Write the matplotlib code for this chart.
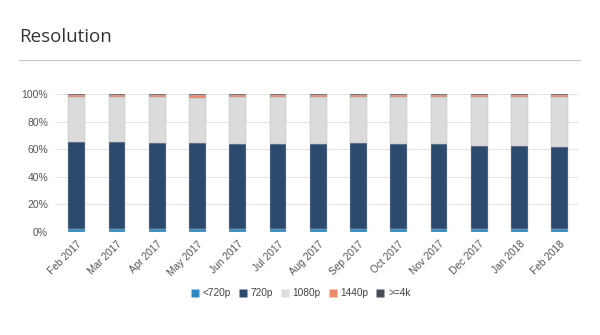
import matplotlib
matplotlib.use("Agg")
import matplotlib.pyplot as plt
import numpy as np
from matplotlib.lines import Line2D

months = ["Feb 2017", "Mar 2017", "Apr 2017", "May 2017", "Jun 2017", "Jul 2017",
          "Aug 2017", "Sep 2017", "Oct 2017", "Nov 2017", "Dec 2017", "Jan 2018", "Feb 2018"]
res_lt720 = [2.0, 2.0, 2.0, 2.0, 2.0, 2.0, 2.0, 2.0, 2.0, 2.0, 2.0, 2.0, 2.0]
res_720 = [63.4, 63.0, 62.3, 62.3, 61.5, 61.5, 61.5, 62.3, 61.5, 61.5, 60.3, 60.3, 59.8]
res_1080 = [32.2, 32.6, 33.3, 33.0, 34.1, 34.1, 34.1, 33.2, 34.1, 34.1, 35.3, 35.3, 35.8]
res_1440 = [1.7, 1.7, 1.7, 1.7, 1.7, 1.7, 1.7, 1.5, 1.7, 1.7, 1.4, 1.7, 1.7]
res_4k = [0.7, 0.7, 0.7, 1.0, 0.7, 0.7, 0.7, 1.0, 0.7, 0.7, 1.0, 0.7, 0.7]

labels = ["<720p", "720p", "1080p", "1440p", ">=4k"]
colors = ["#2f8ac4", "#2c4a6e", "#dbdbdb", "#ec8a6c", "#474d55"]

plt.rcParams["font.family"] = ["Liberation Sans", "DejaVu Sans"]

fig = plt.figure(figsize=(6, 3.35), dpi=100)
ax = fig.add_axes([0.0917, 0.3075, 0.872, 0.4119])

x = np.arange(len(months))
bottom = np.zeros(len(months))
for vals, col in zip([res_lt720, res_720, res_1080, res_1440, res_4k], colors):
    ax.bar(x, vals, 0.42, bottom=bottom, color=col, edgecolor="#b5b5b5", linewidth=0.3, zorder=3)
    bottom += np.array(vals)

ax.set_xlim(-0.54, 12.46)
ax.set_ylim(0, 100)
ax.set_yticks(range(0, 101, 20))
ax.set_yticklabels([f"{v}%" for v in range(0, 101, 20)], fontsize=7.5, color="#555555")
ax.set_xticks(x)
ax.set_xticklabels(months, rotation=45, ha="right", rotation_mode="anchor",
                   fontsize=7.3, color="#555555")
ax.tick_params(length=0, pad=5)
ax.grid(axis="y", color="#e4e4e4", linewidth=0.8, zorder=0)
for s in ax.spines.values():
    s.set_visible(False)

fig.text(0.032, 0.875, "Resolution", fontsize=13.5, color="#333333", va="baseline",
         family=["Open Sans", "DejaVu Sans"])
fig.add_artist(Line2D([0.032, 0.967], [0.821, 0.821], color="#c8c8c8", linewidth=0.8))

handles = [Line2D([0], [0], marker="s", linestyle="", markersize=5.5,
                  markerfacecolor=c, markeredgecolor="none") for c in colors]
fig.legend(handles, labels, loc="center", bbox_to_anchor=(0.5, 0.125), ncol=5,
           frameon=False, fontsize=7.3, handletextpad=0.25, columnspacing=0.7,
           handlelength=1.0, labelcolor="#444444")

fig.savefig("out.png", dpi=100)
